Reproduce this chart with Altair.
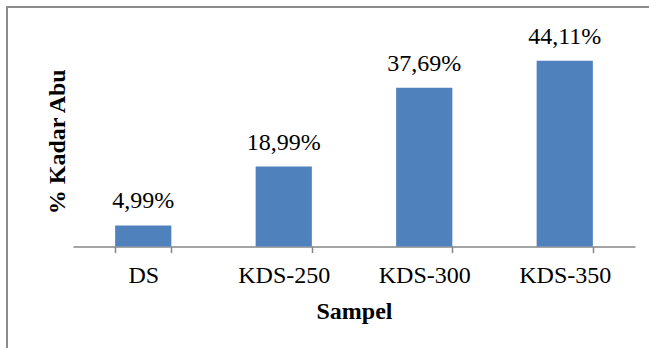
import altair as alt
import pandas as pd

# Ash content (%) per sample
samples = ["DS", "KDS-250", "KDS-300", "KDS-350"]
ash_pct = [4.99, 18.99, 37.69, 44.11]

df = pd.DataFrame({"Sampel": samples, "Kadar": ash_pct})
df["label"] = [f"{v:.2f}".replace(".", ",") + "%" for v in ash_pct]

FONT = "'Liberation Serif', 'Times New Roman', 'DejaVu Serif', serif"
W, H = 562, 210.5
PAD_L, PAD_T = 73, 36
AXIS_GREY = "#868686"

base = alt.Chart(df).encode(
    x=alt.X(
        "Sampel:N",
        sort=samples,
        scale=alt.Scale(paddingInner=0.6, paddingOuter=0.3),
        axis=alt.Axis(
            title="Sampel",
            labelAngle=0,
            tickBand="extent",
            tickSize=6,
            tickWidth=1.5,
            tickColor=AXIS_GREY,
            domainColor=AXIS_GREY,
            domainWidth=1.5,
            labelFont=FONT,
            labelFontSize=24,
            labelColor="black",
            labelBaseline="alphabetic",
            labelPadding=30,
            titleFont=FONT,
            titleFontSize=24,
            titleFontWeight="bold",
            titleColor="black",
            titleX=W / 2,
            titleY=72,
            titleBaseline="alphabetic",
        ),
    ),
    y=alt.Y(
        "Kadar:Q",
        scale=alt.Scale(domain=[0, 50]),
        axis=alt.Axis(
            title="% Kadar Abu",
            labels=False,
            ticks=False,
            domain=False,
            grid=False,
            titleFont=FONT,
            titleFontSize=24,
            titleFontWeight="bold",
            titleColor="black",
            titleX=-16,
            titleY=H / 2,
            titleAlign="center",
            titleBaseline="middle",
        ),
    ),
)

bars = base.mark_bar(color="#4F81BD")

labels = base.mark_text(
    dy=-17, baseline="alphabetic", font=FONT, fontSize=24, color="black"
).encode(text="label:N")

# Outer frame (top and left edges)
frame_top = alt.Chart(df).mark_rule(color="#8c8c8c", strokeWidth=2).encode(
    x=alt.value(7 - PAD_L), x2=alt.value(W + 40), y=alt.value(7 - PAD_T)
)
frame_left = alt.Chart(df).mark_rule(color="#8c8c8c", strokeWidth=2).encode(
    x=alt.value(7 - PAD_L), y=alt.value(6 - PAD_T), y2=alt.value(H + 150)
)

chart = (
    alt.layer(frame_top, frame_left, bars, labels)
    .properties(
        width=W,
        height=H,
        autosize=alt.AutoSizeParams(type="none"),
        padding={"left": PAD_L, "top": PAD_T, "right": 649 - PAD_L - W, "bottom": 348 - PAD_T - H},
        background="white",
    )
    .configure_view(stroke=None)
)

chart.save("out.html", embed_options={"renderer": "svg", "actions": False})
